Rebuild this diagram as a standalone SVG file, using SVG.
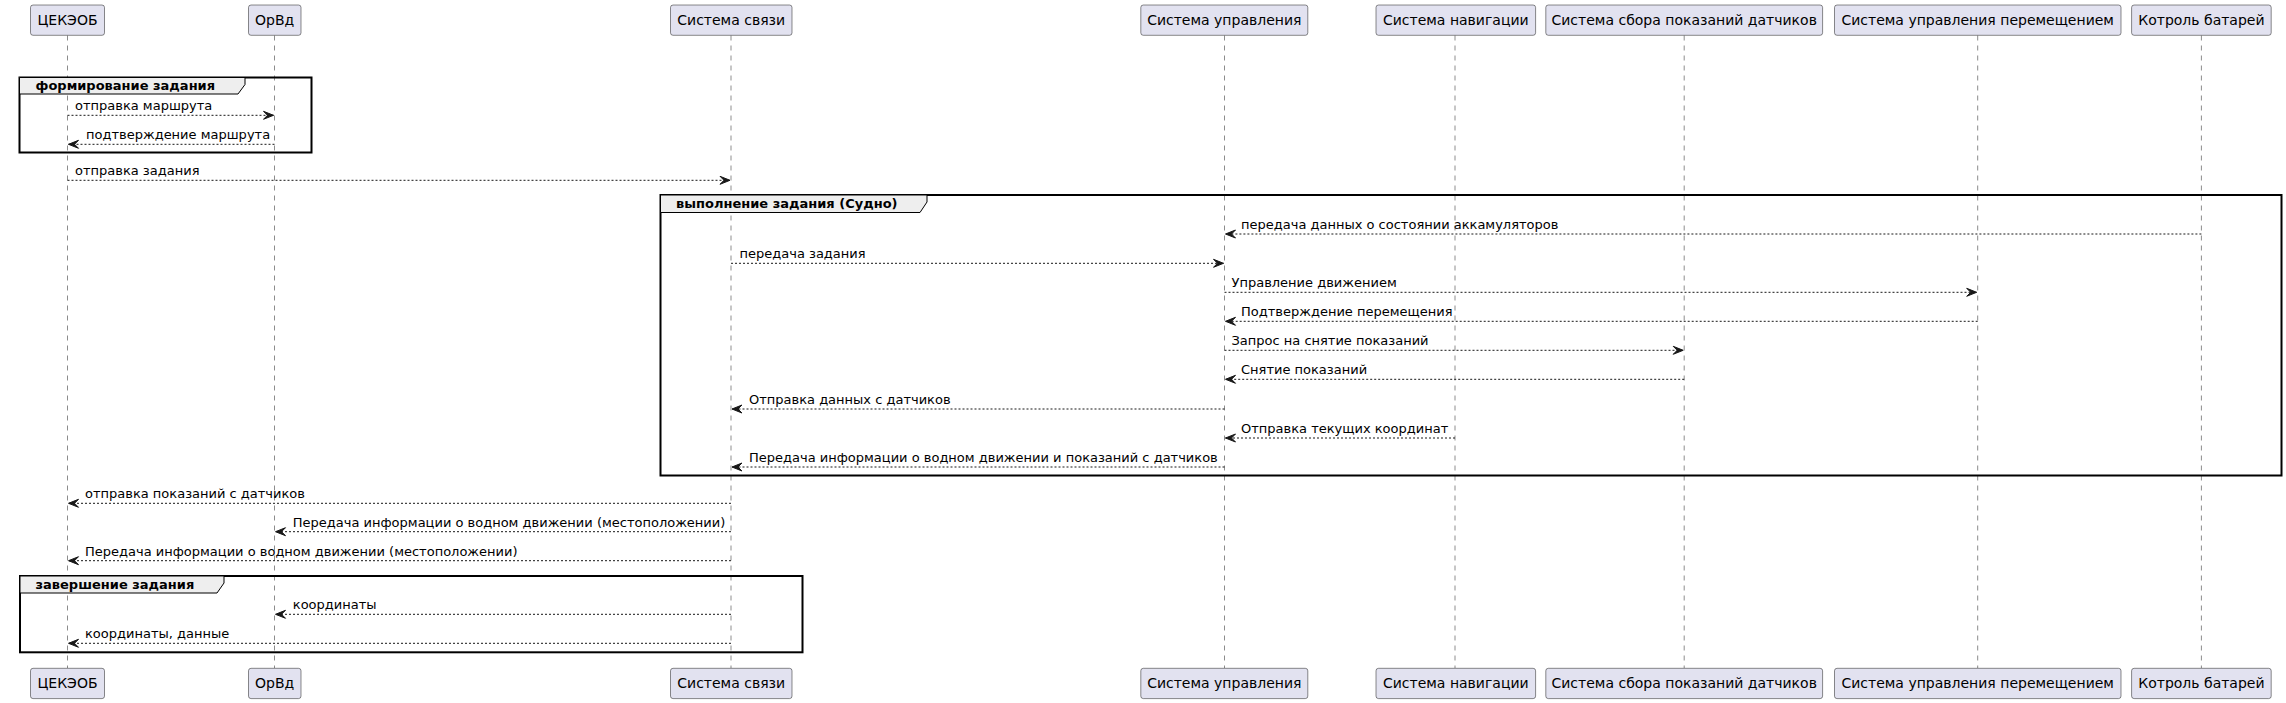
<svg xmlns="http://www.w3.org/2000/svg" width="2286" height="703" viewBox="0 0 2286 703">
<style>
.bg{fill:#FFFFFF}
.part rect{fill:#E2E2F0;stroke:#181818;stroke-width:0.5}
.part text{font-family:"DejaVu Sans",sans-serif;font-size:14px;fill:#000000;text-anchor:middle}
.life{stroke:#181818;stroke-width:0.5;stroke-dasharray:5,5;fill:none}
.grp rect{fill:none;stroke:#000000;stroke-width:2}
.grp polygon{fill:#EEEEEE;stroke:#000000;stroke-width:1}
.grp text{font-family:"DejaVu Sans",sans-serif;font-size:13px;font-weight:bold;fill:#000000}
.msg line{stroke:#181818;stroke-width:1;stroke-dasharray:2,2}
.msg text{font-family:"DejaVu Sans",sans-serif;font-size:13px;fill:#000000}
</style>
<defs>
<marker id="arr" markerUnits="userSpaceOnUse" viewBox="-1 -1 12 10" refX="10" refY="4" markerWidth="12" markerHeight="10" orient="auto">
<path d="M0,0 L10,4 L0,8 L4,4 Z" fill="#181818" stroke="#181818" stroke-width="1" stroke-linejoin="miter"/>
</marker>
</defs>
<rect class="bg" x="0" y="0" width="2286" height="703"/>

<g id="lifelines">
<line class="life" x1="67.5" y1="35.5" x2="67.5" y2="668"/>
<line class="life" x1="274.5" y1="35.5" x2="274.5" y2="668"/>
<line class="life" x1="731" y1="35.5" x2="731" y2="668"/>
<line class="life" x1="1224.5" y1="35.5" x2="1224.5" y2="668"/>
<line class="life" x1="1455" y1="35.5" x2="1455" y2="668"/>
<line class="life" x1="1684.2" y1="35.5" x2="1684.2" y2="668"/>
<line class="life" x1="1977.7" y1="35.5" x2="1977.7" y2="668"/>
<line class="life" x1="2201.4" y1="35.5" x2="2201.4" y2="668"/>
</g>

<g id="groups">
<g class="grp" id="g-form">
<rect x="19.5" y="77.5" width="292" height="75"/>
<polygon points="19.5,77.5 245,77.5 245,84.5 238,94 19.5,94"/>
<text x="35.5" y="89.5">формирование задания</text>
</g>
<g class="grp" id="g-exec">
<rect x="660.5" y="195" width="1621" height="280.5"/>
<polygon points="660.5,195 927,195 927,202 920,212.5 660.5,212.5"/>
<text x="676" y="208">выполнение задания (Судно)</text>
</g>
<g class="grp" id="g-end">
<rect x="20" y="576" width="782.5" height="76.3"/>
<polygon points="20,576 224,576 224,583 217,593 20,593"/>
<text x="35.5" y="589">завершение задания</text>
</g>
</g>

<g id="participants">
<g class="part" id="p-cekeob"><rect x="30.5" y="5" width="74" height="30.3" rx="2.5"/><text x="67.5" y="25">ЦЕКЭОБ</text><rect x="30.5" y="668.3" width="74" height="30.3" rx="2.5"/><text x="67.5" y="688.3">ЦЕКЭОБ</text></g>
<g class="part" id="p-orvd"><rect x="248.5" y="5" width="52.5" height="30.3" rx="2.5"/><text x="274.7" y="25">ОрВд</text><rect x="248.5" y="668.3" width="52.5" height="30.3" rx="2.5"/><text x="274.7" y="688.3">ОрВд</text></g>
<g class="part" id="p-svyaz"><rect x="670.5" y="5" width="121.5" height="30.3" rx="2.5"/><text x="731.2" y="25">Система связи</text><rect x="670.5" y="668.3" width="121.5" height="30.3" rx="2.5"/><text x="731.2" y="688.3">Система связи</text></g>
<g class="part" id="p-upr"><rect x="1140.8" y="5" width="167" height="30.3" rx="2.5"/><text x="1224.3" y="25">Система управления</text><rect x="1140.8" y="668.3" width="167" height="30.3" rx="2.5"/><text x="1224.3" y="688.3">Система управления</text></g>
<g class="part" id="p-nav"><rect x="1376" y="5" width="159.6" height="30.3" rx="2.5"/><text x="1455.8" y="25">Система навигации</text><rect x="1376" y="668.3" width="159.6" height="30.3" rx="2.5"/><text x="1455.8" y="688.3">Система навигации</text></g>
<g class="part" id="p-sbor"><rect x="1545.8" y="5" width="276.8" height="30.3" rx="2.5"/><text x="1684.2" y="25">Система сбора показаний датчиков</text><rect x="1545.8" y="668.3" width="276.8" height="30.3" rx="2.5"/><text x="1684.2" y="688.3">Система сбора показаний датчиков</text></g>
<g class="part" id="p-perem"><rect x="1834.5" y="5" width="286.5" height="30.3" rx="2.5"/><text x="1977.7" y="25">Система управления перемещением</text><rect x="1834.5" y="668.3" width="286.5" height="30.3" rx="2.5"/><text x="1977.7" y="688.3">Система управления перемещением</text></g>
<g class="part" id="p-bat"><rect x="2131.6" y="5" width="139.6" height="30.3" rx="2.5"/><text x="2201.4" y="25">Котроль батарей</text><rect x="2131.6" y="668.3" width="139.6" height="30.3" rx="2.5"/><text x="2201.4" y="688.3">Котроль батарей</text></g>
</g>

<g id="connectors" class="msg">
<line x1="67.5" y1="115.3" x2="273.5" y2="115.3" marker-end="url(#arr)"/><text x="75" y="110.3">отправка маршрута</text>
<line x1="274.5" y1="144.3" x2="68.5" y2="144.3" marker-end="url(#arr)"/><text x="86" y="139.3">подтверждение маршрута</text>
<line x1="67.5" y1="180.3" x2="730" y2="180.3" marker-end="url(#arr)"/><text x="75" y="175.3">отправка задания</text>
<line x1="2201.4" y1="234" x2="1225.5" y2="234" marker-end="url(#arr)"/><text x="1241" y="229">передача данных о состоянии аккамуляторов</text>
<line x1="731" y1="263.3" x2="1223.5" y2="263.3" marker-end="url(#arr)"/><text x="739.5" y="258.3">передача задания</text>
<line x1="1224.5" y1="292.3" x2="1976.7" y2="292.3" marker-end="url(#arr)"/><text x="1231.5" y="287.3">Управление движением</text>
<line x1="1977.7" y1="321.3" x2="1225.5" y2="321.3" marker-end="url(#arr)"/><text x="1241" y="316.3">Подтверждение перемещения</text>
<line x1="1224.5" y1="350.3" x2="1683.2" y2="350.3" marker-end="url(#arr)"/><text x="1231.5" y="345.3">Запрос на снятие показаний</text>
<line x1="1684.2" y1="379.3" x2="1225.5" y2="379.3" marker-end="url(#arr)"/><text x="1241" y="374.3">Снятие показаний</text>
<line x1="1224.5" y1="409" x2="732" y2="409" marker-end="url(#arr)"/><text x="749" y="404">Отправка данных с датчиков</text>
<line x1="1455" y1="438" x2="1225.5" y2="438" marker-end="url(#arr)"/><text x="1241" y="433">Отправка текущих координат</text>
<line x1="1224.5" y1="467" x2="732" y2="467" marker-end="url(#arr)"/><text x="749" y="462">Передача информации о водном движении и показаний с датчиков</text>
<line x1="731" y1="503.3" x2="68.5" y2="503.3" marker-end="url(#arr)"/><text x="85" y="498.3">отправка показаний с датчиков</text>
<line x1="731" y1="531.7" x2="275.5" y2="531.7" marker-end="url(#arr)"/><text x="292.8" y="526.7">Передача информации о водном движении (местоположении)</text>
<line x1="731" y1="560.7" x2="68.5" y2="560.7" marker-end="url(#arr)"/><text x="85" y="555.7">Передача информации о водном движении (местоположении)</text>
<line x1="731" y1="614.3" x2="275.5" y2="614.3" marker-end="url(#arr)"/><text x="292.8" y="609.3">координаты</text>
<line x1="731" y1="643.3" x2="68.5" y2="643.3" marker-end="url(#arr)"/><text x="85" y="638.3">координаты, данные</text>
</g>
</svg>
